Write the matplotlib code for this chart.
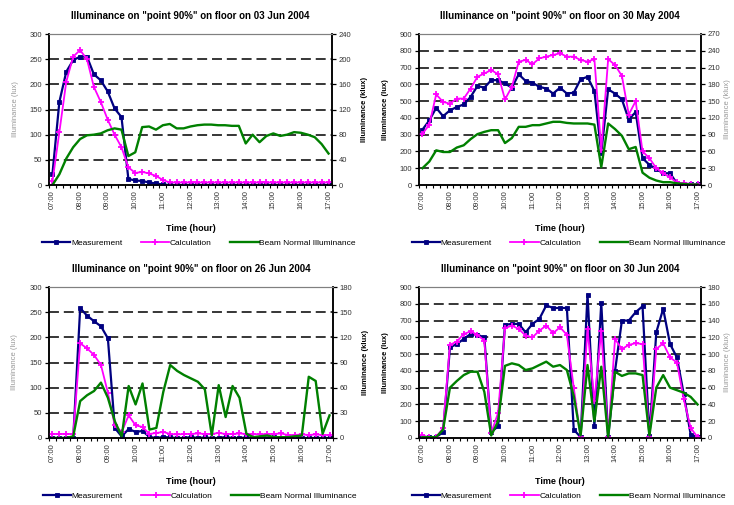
import matplotlib
matplotlib.use("Agg")
import matplotlib.pyplot as plt
import numpy as np

plt.rcParams['font.family'] = ['Liberation Sans', 'DejaVu Sans']

# 15-minute samples between 07:00 and 17:00
hours = ["07:00", "08:00", "09:00", "10:00", "11:00", "12:00",
         "13:00", "14:00", "15:00", "16:00", "17:00"]
n_samples = 41

# 03 Jun 2004
meas_0306 = [22, 165, 225, 248, 255, 255, 220, 208, 186, 152, 135, 12, 9, 8, 5, 3, 1,
             0, 0, 0, 0, 0, 0, 0, 0, 0, 0, 0, 0, 0, 0, 0, 0, 0, 0, 0, 0, 0, 0, 0, 0]
calc_0306 = [7, 105, 205, 255, 268, 250, 195, 165, 130, 100, 75, 35, 24, 26, 23, 18, 10,
             5, 5, 5, 5, 5, 5, 5, 5, 5, 5, 5, 5, 5, 5, 5, 5, 5, 5, 5, 5, 5, 5, 5, 5]
beam_0306 = [0, 17, 42, 60, 73, 79, 80, 82, 87, 90, 88, 46, 52, 92, 93, 88, 95, 97, 90, 90,
             93, 95, 96, 96, 95, 95, 94, 94, 66, 80, 68, 78, 82, 78, 80, 84, 83, 80, 76, 65, 50]

# 30 May 2004
meas_3005 = [330, 385, 460, 410, 445, 465, 480, 525, 590, 580, 625, 625, 605, 580, 660, 620,
             610, 585, 575, 545, 580, 545, 550, 630, 645, 560, 190, 570, 545, 510, 390, 435,
             160, 120, 95, 70, 70, 10, 5, 5, 3]
calc_3005 = [305, 360, 540, 495, 485, 515, 515, 575, 645, 665, 685, 660, 510, 585, 735, 745,
             720, 755, 765, 775, 785, 765, 765, 745, 735, 750, 210, 750, 715, 650, 420, 500,
             200, 160, 100, 70, 45, 15, 10, 8, 5]
beam_3005 = [30, 42, 62, 59, 59, 67, 71, 82, 91, 95, 98, 98, 75, 84, 104, 104, 107, 107, 110,
             113, 113, 111, 110, 110, 110, 108, 32, 110, 100, 88, 64, 68, 22, 13, 8, 5, 5, 3,
             2, 1, 1]

# 26 Jun 2004
meas_2606 = [0, 0, 0, 0, 258, 243, 232, 222, 198, 20, 3, 18, 12, 14, 2, 0, 2, 1, 0, 0, 2,
             0, 1, 0, 0, 2, 0, 0, 1, 0, 0, 0, 1, 0, 0, 0, 0, 0, 0, 0, 0]
calc_2606 = [8, 8, 8, 8, 188, 178, 165, 145, 90, 25, 12, 45, 25, 22, 8, 10, 12, 8, 7, 8, 8,
             9, 8, 8, 10, 8, 8, 9, 8, 8, 7, 8, 8, 9, 6, 6, 7, 6, 7, 6, 6]
beam_2606 = [0, 0, 0, 2, 44, 51, 56, 66, 48, 20, 2, 62, 40, 65, 10, 12, 55, 87, 80, 75, 71,
             67, 58, 3, 63, 25, 62, 48, 5, 1, 2, 3, 1, 1, 1, 2, 3, 73, 68, 5, 27]

# 30 Jun 2004
meas_3006 = [5, 5, 5, 35, 540, 560, 590, 620, 615, 600, 35, 70, 675, 680, 680, 630, 680,
             710, 790, 775, 775, 775, 50, 5, 855, 70, 805, 5, 400, 700, 700, 750, 785, 10,
             630, 770, 560, 480, 260, 20, 5]
calc_3006 = [15, 5, 5, 60, 555, 575, 620, 635, 615, 580, 30, 150, 655, 670, 650, 610, 600,
             640, 670, 625, 660, 615, 300, 5, 650, 220, 640, 5, 590, 530, 555, 565, 560, 5,
             530, 565, 480, 450, 230, 60, 5]
beam_3006 = [1, 1, 1, 10, 60, 68, 75, 79, 79, 55, 3, 20, 86, 89, 87, 81, 83, 87, 91, 85, 87,
             81, 50, 3, 87, 20, 85, 1, 79, 74, 77, 77, 75, 3, 60, 75, 60, 57, 54, 49, 40]

titles = ['Illuminance on "point 90%" on floor on 03 Jun 2004',
          'Illuminance on "point 90%" on floor on 30 May 2004',
          'Illuminance on "point 90%" on floor on 26 Jun 2004',
          'Illuminance on "point 90%" on floor on 30 Jun 2004']

NAVY = '#000080'
PINK = '#FF00FF'
GREEN = '#008000'

W, H = 734, 505


def px_axes(left, top, right, bottom):
    return [left / W, 1 - bottom / H, (right - left) / W, (bottom - top) / H]


def panel(rect, title, meas, calc, beam, lmax, lstep, rmax, rstep, faint_left):
    ax = fig.add_axes(rect)
    x = np.arange(n_samples)

    # dashed grid between the bottom and the top border
    for v in np.arange(lstep, lmax, lstep):
        ax.axhline(v, color='black', lw=1.1, ls=(0, (6.5, 3.2)), zorder=1)

    l1, = ax.plot(x, meas, color=NAVY, lw=1.6, marker='s', ms=3.4, mew=0.6,
                  label='Measurement', zorder=3)
    l2, = ax.plot(x, calc, color=PINK, lw=1.3, marker='+', ms=5, mew=1.3,
                  label='Calculation', zorder=4)
    ax.set_xlim(-0.5, n_samples - 0.5)
    ax.set_ylim(0, lmax)
    ax.set_yticks(np.arange(0, lmax + 1, lstep))
    ax.set_xticks(x[::4])
    ax.set_xticklabels(hours, rotation=90)
    ax.set_xticks(np.arange(-0.5, n_samples, 1), minor=True)
    ax.tick_params(axis='x', which='major', length=0, pad=4, labelsize=5.5,
                   labelcolor='#333333')
    ax.tick_params(axis='x', which='minor', length=2.5, width=0.8, direction='out')
    ax.tick_params(axis='y', length=3, width=0.9, direction='out', pad=2,
                   labelsize=5.5, labelcolor='#333333')

    ax2 = ax.twinx()
    l3, = ax2.plot(x, beam, color=GREEN, lw=1.7, label='Beam Normal Illuminance')
    ax2.set_ylim(0, rmax)
    ax2.set_yticks(np.arange(0, rmax + 1, rstep))
    ax2.tick_params(axis='y', length=3, width=0.9, direction='out', pad=2,
                    labelsize=5.5, labelcolor='#333333')

    for a in (ax, ax2):
        a.spines['top'].set_color('#808080')
        a.spines['top'].set_linewidth(0.8)
        for s in ('left', 'right', 'bottom'):
            a.spines[s].set_linewidth(1.1)

    ax.text(0.5, 1.12, title, transform=ax.transAxes, ha='center', va='center',
            fontsize=7, fontweight='bold')
    ax.text(0.5, -0.285, 'Time (hour)', transform=ax.transAxes, ha='center',
            va='center', fontsize=6.5, fontweight='bold')

    lc, rc = ('#999999', 'black') if faint_left else ('black', '#999999')
    lw_, rw_ = ('normal', 'bold') if faint_left else ('bold', 'normal')
    rx = 1.115 if faint_left else 1.093
    ax.text(-0.12, 0.5, 'Illuminance (lux)', transform=ax.transAxes, rotation=90,
            ha='center', va='center', fontsize=5.5, color=lc, fontweight=lw_)
    ax.text(rx, 0.5, 'Illuminance (klux)', transform=ax.transAxes, rotation=90,
            ha='center', va='center', fontsize=5.5, color=rc, fontweight=rw_)

    ax.legend([l1, l2, l3], [l1.get_label(), l2.get_label(), l3.get_label()],
              loc='center', bbox_to_anchor=(0.53, -0.384), ncol=3, frameon=False,
              fontsize=6, handlelength=3.4, handletextpad=0.1, columnspacing=2.2)
    return ax


fig = plt.figure(figsize=(W / 100, H / 100), dpi=100)

panel(px_axes(49, 34, 332, 185), titles[0], meas_0306, calc_0306, beam_0306,
      300, 50, 240, 40, True)
panel(px_axes(419, 34, 701, 185), titles[1], meas_3005, calc_3005, beam_3005,
      900, 100, 270, 30, False)
panel(px_axes(49, 287, 333, 438), titles[2], meas_2606, calc_2606, beam_2606,
      300, 50, 180, 30, True)
panel(px_axes(419, 287, 701, 438), titles[3], meas_3006, calc_3006, beam_3006,
      900, 100, 180, 20, False)

fig.savefig('out.png', dpi=100)
